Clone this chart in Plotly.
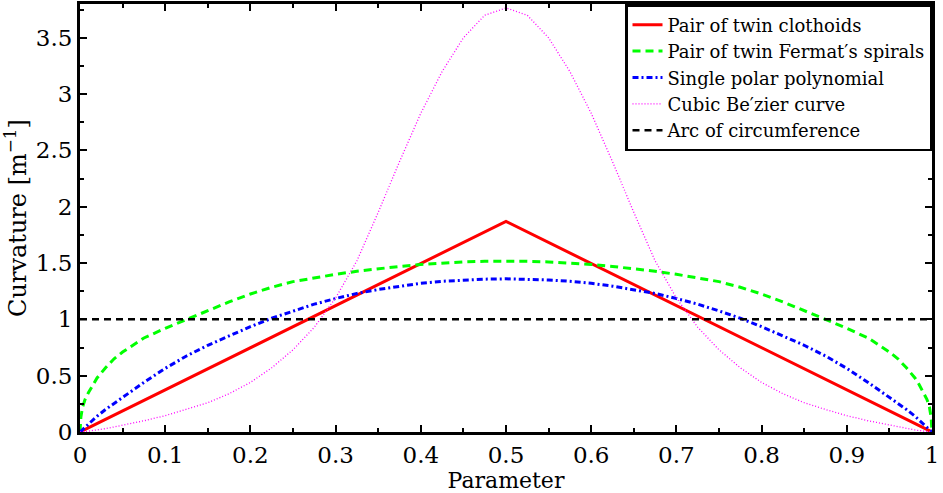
import plotly.graph_objects as go

# Curve parameter samples (0 .. 1), denser near the ends where curvature changes fast
param = [0, 0.001, 0.003, 0.006, 0.01, 0.015, 0.02, 0.03, 0.04, 0.05, 0.075, 0.1,
         0.125, 0.15, 0.175, 0.2, 0.225, 0.25, 0.275, 0.3, 0.325, 0.35, 0.375, 0.4,
         0.425, 0.45, 0.475, 0.5,
         0.525, 0.55, 0.575, 0.6, 0.625, 0.65, 0.675, 0.7, 0.725, 0.75, 0.775, 0.8,
         0.825, 0.85, 0.875, 0.9, 0.925, 0.95, 0.96, 0.97, 0.98, 0.985, 0.99, 0.994,
         0.997, 0.999, 1]

clothoids_x = [0, 0.5, 1]
clothoids_k = [0, 1.87, 0]

fermat_k = [0, 0.13, 0.22, 0.29, 0.35, 0.42, 0.48, 0.57, 0.65, 0.71, 0.835, 0.92,
            1.0, 1.08, 1.155, 1.225, 1.285, 1.335, 1.37, 1.40, 1.427, 1.45, 1.47, 1.487,
            1.50, 1.51, 1.515, 1.517,
            1.515, 1.51, 1.50, 1.487, 1.47, 1.45, 1.427, 1.40, 1.37, 1.335, 1.285, 1.225,
            1.155, 1.08, 1.0, 0.92, 0.835, 0.71, 0.65, 0.57, 0.48, 0.42, 0.35, 0.29,
            0.22, 0.13, 0]

polar_k = [0, 0.007, 0.02, 0.042, 0.07, 0.105, 0.14, 0.20, 0.255, 0.31, 0.44, 0.565,
           0.675, 0.77, 0.855, 0.935, 1.01, 1.075, 1.135, 1.185, 1.23, 1.265, 1.295, 1.32,
           1.338, 1.35, 1.357, 1.36,
           1.357, 1.35, 1.338, 1.32, 1.295, 1.265, 1.23, 1.185, 1.135, 1.075, 1.01, 0.935,
           0.855, 0.77, 0.675, 0.565, 0.44, 0.31, 0.255, 0.20, 0.14, 0.105, 0.07, 0.042,
           0.02, 0.007, 0]

bezier_k = [0, 0, 0.001, 0.003, 0.008, 0.013, 0.018, 0.03, 0.045, 0.06, 0.10, 0.145,
            0.20, 0.26, 0.34, 0.44, 0.57, 0.73, 0.93, 1.19, 1.52, 1.95, 2.40, 2.83,
            3.20, 3.50, 3.70, 3.765,
            3.70, 3.50, 3.20, 2.83, 2.40, 1.95, 1.52, 1.19, 0.93, 0.73, 0.57, 0.44,
            0.34, 0.26, 0.20, 0.145, 0.10, 0.06, 0.045, 0.03, 0.018, 0.013, 0.008, 0.003,
            0.001, 0, 0]

arc_x = [0, 1]
arc_k = [1, 1]

x_ticks = [0, 0.1, 0.2, 0.3, 0.4, 0.5, 0.6, 0.7, 0.8, 0.9, 1]
y_ticks = [0, 0.5, 1, 1.5, 2, 2.5, 3, 3.5]

FONT = "DejaVu Serif"

fig = go.Figure()
fig.add_trace(go.Scatter(x=clothoids_x, y=clothoids_k, mode="lines",
                         name="Pair of twin clothoids",
                         line=dict(color="#ff0000", width=3)))
fig.add_trace(go.Scatter(x=param, y=fermat_k, mode="lines",
                         name="Pair of twin Fermat\u2032s spirals",
                         line=dict(color="#00ff00", width=3, dash="8px,5px")))
fig.add_trace(go.Scatter(x=param, y=polar_k, mode="lines",
                         name="Single polar polynomial",
                         line=dict(color="#0000ff", width=3, dash="6px,3px,2px,3px")))
fig.add_trace(go.Scatter(x=param, y=bezier_k, mode="lines",
                         name="Cubic Be\u2032zier curve",
                         line=dict(color="#ff00ff", width=1.3, dash="1px,2px")))
fig.add_trace(go.Scatter(x=arc_x, y=arc_k, mode="lines",
                         name="Arc of circumference",
                         line=dict(color="#000000", width=2.5, dash="7px,5px")))

axis_common = dict(
    showline=True, linecolor="black", linewidth=3, mirror="ticks",
    ticks="inside", ticklen=7, tickwidth=2, tickcolor="black",
    showgrid=False, zeroline=False,
    tickfont=dict(family=FONT, size=23, color="black"),
)

fig.update_xaxes(range=[0, 1], tickvals=x_ticks, ticktext=[f"{v:g}" for v in x_ticks],
                 minor=dict(dtick=0.05, ticks="inside", ticklen=4, tickwidth=2, tickcolor="black"),
                 title=dict(text="Parameter", font=dict(family=FONT, size=22, color="black"),
                            standoff=6),
                 ticklabelstandoff=0,
                 **axis_common)
fig.update_yaxes(range=[0, 3.8], tickvals=y_ticks, ticktext=[f"{v:g}" for v in y_ticks],
                 minor=dict(dtick=0.25, ticks="inside", ticklen=4, tickwidth=2, tickcolor="black"),
                 title=dict(text="Curvature [m<sup>\u22121</sup>]",
                            font=dict(family=FONT, size=24, color="black"), standoff=4),
                 ticklabelstandoff=0,
                 **axis_common)

fig.update_layout(
    width=943, height=493,
    margin=dict(l=80, r=11, t=1, b=61),
    paper_bgcolor="white", plot_bgcolor="white",
    font=dict(family=FONT, color="black"),
    legend=dict(x=1, y=1, xanchor="right", yanchor="top",
                bgcolor="white", bordercolor="black", borderwidth=2.5,
                font=dict(family=FONT, size=18, color="black"),
                tracegroupgap=0, itemwidth=30),
    showlegend=True,
)

fig.write_html("out.html")
